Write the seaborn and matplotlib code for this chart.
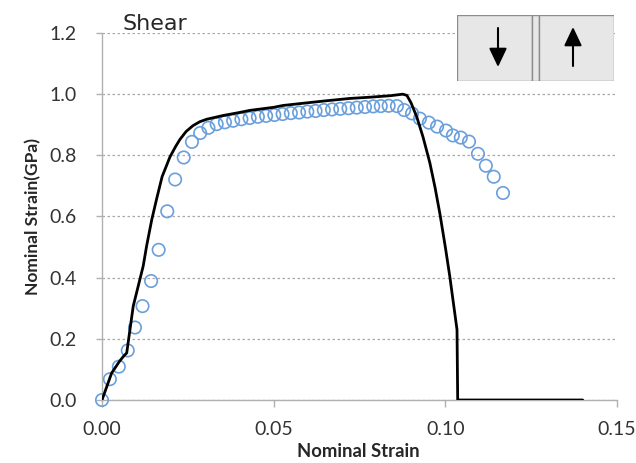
import numpy as np
import pandas as pd
import seaborn as sns
import matplotlib
matplotlib.use('Agg')
import matplotlib.pyplot as plt
from matplotlib.patches import Rectangle

# experiment (open circles)
exp_strain = [0.0, 0.0023, 0.0049, 0.0075, 0.0096, 0.0118, 0.0143, 0.0165, 0.0190, 0.0213,
              0.0238, 0.0262, 0.0286, 0.0310, 0.0334, 0.0358, 0.0382, 0.0406, 0.0430, 0.0454,
              0.0478, 0.0502, 0.0526, 0.0550, 0.0574, 0.0598, 0.0622, 0.0646, 0.0670, 0.0694,
              0.0718, 0.0742, 0.0766, 0.0790, 0.0812, 0.0835, 0.0859, 0.0880, 0.0903, 0.0926,
              0.0952, 0.0976, 0.1002, 0.1022, 0.1045, 0.1069, 0.1095, 0.1118, 0.1141, 0.1168]
exp_stress = [0.0, 0.068, 0.109, 0.162, 0.237, 0.307, 0.389, 0.491, 0.617, 0.721,
              0.793, 0.844, 0.873, 0.890, 0.902, 0.908, 0.913, 0.918, 0.922, 0.926,
              0.929, 0.932, 0.935, 0.938, 0.940, 0.943, 0.945, 0.948, 0.950, 0.952,
              0.954, 0.956, 0.958, 0.960, 0.961, 0.962, 0.961, 0.948, 0.937, 0.920,
              0.907, 0.894, 0.881, 0.865, 0.858, 0.845, 0.805, 0.766, 0.730, 0.677]

# simulation (black line)
sim_strain = [0.0, 0.0028, 0.0050, 0.0062, 0.0072, 0.0091, 0.0120, 0.0130, 0.0145, 0.0159,
              0.0175, 0.0198, 0.0215, 0.0227, 0.0245, 0.0265, 0.0285, 0.0305, 0.0352, 0.0400,
              0.0431, 0.0500, 0.0527, 0.0600, 0.0650, 0.0722, 0.0780, 0.0840, 0.0876, 0.0888,
              0.0900, 0.0917, 0.0935, 0.0955, 0.0970, 0.0984, 0.1000, 0.1013, 0.1034, 0.1036,
              0.1400]
sim_stress = [0.0, 0.088, 0.125, 0.142, 0.154, 0.307, 0.438, 0.504, 0.590, 0.657,
              0.730, 0.795, 0.830, 0.852, 0.878, 0.897, 0.910, 0.918, 0.930, 0.940,
              0.947, 0.957, 0.963, 0.972, 0.978, 0.986, 0.990, 0.995, 1.000, 0.996,
              0.972, 0.925, 0.860, 0.775, 0.695, 0.610, 0.500, 0.404, 0.230, 0.0,
              0.0]

xticks = [0.0, 0.05, 0.10, 0.15]
yticks = [0.0, 0.2, 0.4, 0.6, 0.8, 1.0, 1.2]

exp_df = pd.DataFrame({'strain': exp_strain, 'stress': exp_stress})
sim_df = pd.DataFrame({'strain': sim_strain, 'stress': sim_stress})

sns.set_style('white')
plt.rcParams['font.family'] = ['Lato', 'DejaVu Sans']

fig = plt.figure(figsize=(6.36, 4.63), dpi=100)
ax = fig.add_axes([102 / 636, 1 - 400 / 463, 515 / 636, 367 / 463])

sns.scatterplot(data=exp_df, x='strain', y='stress', ax=ax, marker='o', s=80,
                facecolor='none', edgecolor='#6a9fdc', linewidth=1.2, zorder=3,
                clip_on=False)
sns.lineplot(data=sim_df, x='strain', y='stress', ax=ax, sort=False,
             color='black', linewidth=2.0, zorder=4)

ax.set_xticks(xticks)
ax.set_yticks(yticks)
ax.set_xticklabels(['%.2f' % v for v in xticks])
ax.set_yticklabels(['%.1f' % v for v in yticks])
ax.set_xlim(0, 0.15)
ax.set_ylim(0, 1.2)

ax.yaxis.grid(True, color='#a8a8a8', linestyle=(0, (2, 2)), linewidth=0.9)
ax.xaxis.grid(False)
sns.despine(ax=ax, top=True, right=True)
for s in ['left', 'bottom']:
    ax.spines[s].set_color('#b0b0b0')
    ax.spines[s].set_linewidth(1.0)
ax.tick_params(axis='x', length=5, width=1, color='#b0b0b0', labelsize=14,
               labelcolor='#333333', pad=10, direction='out', bottom=True)
ax.tick_params(axis='y', length=4, width=1, color='#b0b0b0', labelsize=14,
               labelcolor='#333333', pad=14, direction='out', left=True)

ax.set_xlabel('Nominal Strain', fontsize=13.3, fontweight='bold')
ax.set_ylabel('Nominal Strain(GPa)', fontsize=12.5, fontweight='bold')
ax.xaxis.set_label_coords(0.498, -0.116)
ax.yaxis.set_label_coords(-0.118, 0.5)

fig.text(122 / 636, 1 - 30 / 463, 'Shear', fontsize=16, family='DejaVu Sans',
         ha='left', va='baseline')

# loading sketch at top right
ins = fig.add_axes([457 / 636, 1 - 81 / 463, 157 / 636, 66 / 463])
ins.set_xlim(0, 157)
ins.set_ylim(66, 0)
ins.axis('off')
for x0, w in [(0, 75), (75, 7), (82, 75)]:
    ins.add_patch(Rectangle((x0, 0), w, 66, facecolor='#e7e7e7',
                            edgecolor='#8c8c8c', linewidth=1.0))
arrow_style = dict(arrowstyle='-|>,head_length=0.95,head_width=0.45',
                   mutation_scale=12, color='black', lw=1.5, shrinkA=0, shrinkB=0)
ins.annotate('', xy=(41, 52), xytext=(41, 13), arrowprops=arrow_style)
ins.annotate('', xy=(116, 12), xytext=(116, 51), arrowprops=arrow_style)

fig.savefig('out.png', dpi=100)
